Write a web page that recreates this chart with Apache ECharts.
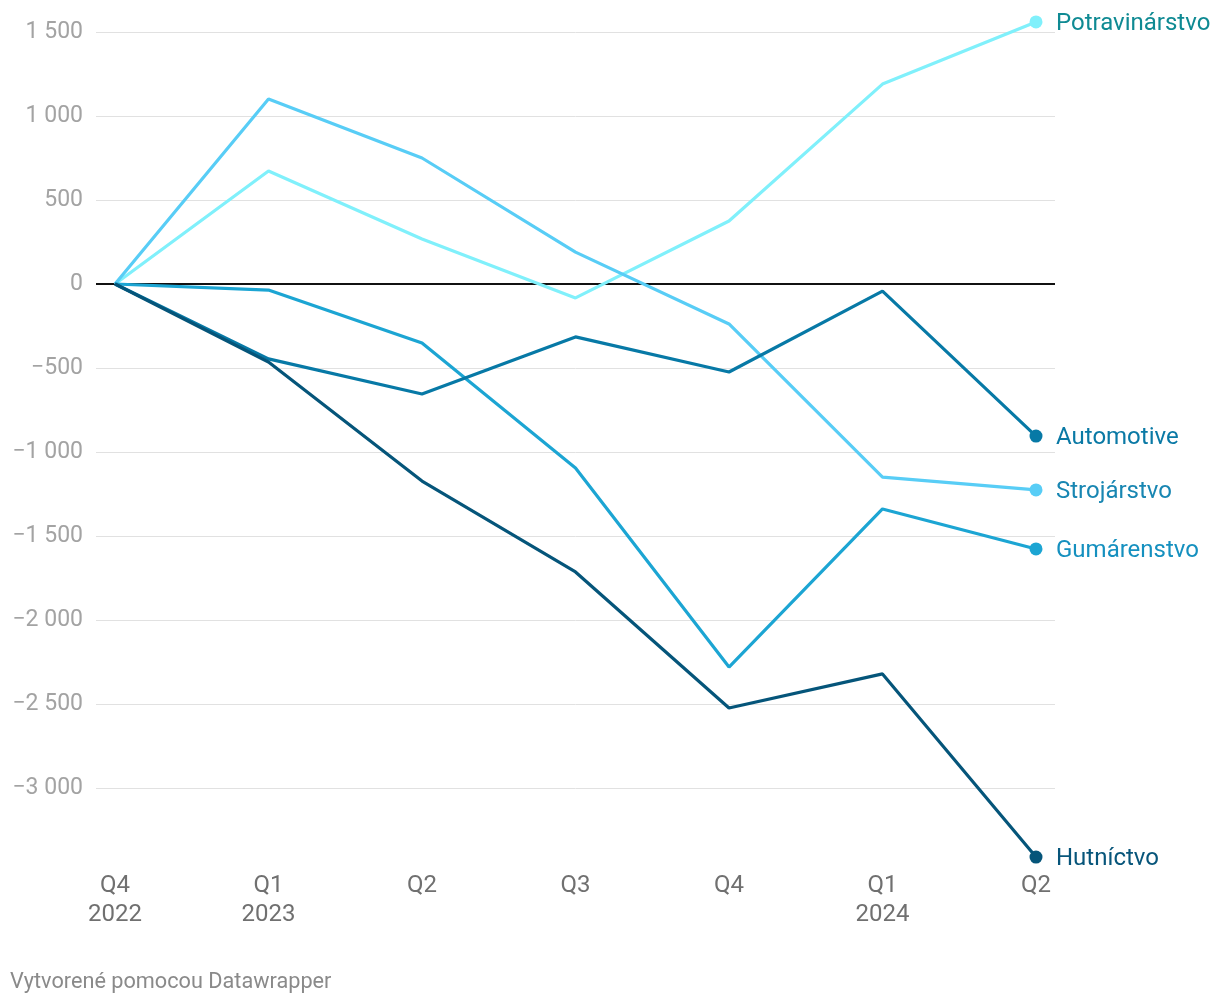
<!DOCTYPE html>
<html>
<head>
<meta charset="utf-8">
<script src="https://cdn.jsdelivr.net/npm/echarts@6/dist/echarts.min.js"></script>
<style>
html,body{margin:0;padding:0;background:#fff;}
#chart{width:1220px;height:1004px;}
</style>
</head>
<body>
<div id="chart"></div>
<script>
const categories = ['Q4\n2022', 'Q1\n2023', 'Q2', 'Q3', 'Q4', 'Q1\n2024', 'Q2'];
const potravinarstvo = [0, 673, 268, -83, 375, 1190, 1560];
const strojarstvo = [0, 1101, 750, 190, -238, -1149, -1226];
const automotive = [0, -446, -655, -315, -524, -42, -905];
const gumarenstvo = [0, -36, -351, -1095, -2280, -1339, -1577];
const hutnictvo = [0, -464, -1173, -1714, -2524, -2321, -3411];
const yTicks = [-3000, -2500, -2000, -1500, -1000, -500, 0, 500, 1000, 1500];

const FONT = 'Roboto';
function fmt(v) {
  const s = Math.abs(v).toString().replace(/\B(?=(\d{3})+(?!\d))/g, ' ');
  return (v < 0 ? '\u2212' : '') + s;
}

const seriesDefs = [
  {name: 'Potravinárstvo', data: potravinarstvo, color: '#80f0fb', label: '#0f8a93'},
  {name: 'Strojárstvo', data: strojarstvo, color: '#58cdf6', label: '#1886b2'},
  {name: 'Gumárenstvo', data: gumarenstvo, color: '#1ca5d3', label: '#1590bf'},
  {name: 'Automotive', data: automotive, color: '#0779a6', label: '#0a79a5'},
  {name: 'Hutníctvo', data: hutnictvo, color: '#05557a', label: '#07557a'}
];

const TOP = 32, BOTTOM = 132;
const chart = echarts.init(document.getElementById('chart'));
const splitColors = [-3500].concat(yTicks).map(v => (v === -3500 || v === 0) ? 'rgba(0,0,0,0)' : '#e1e1e1');

chart.setOption({
  animation: false,
  title: {
    text: 'Vytvorené pomocou Datawrapper',
    left: 5, top: 967,
    textStyle: {fontFamily: FONT, fontSize: 21.7, fontWeight: 'normal', color: '#8a8a8a'}
  },
  grid: [
    {left: 115, right: 184, top: TOP, bottom: BOTTOM},
    {left: 96, right: 165, top: TOP, bottom: BOTTOM}
  ],
  xAxis: [
    {
      type: 'category', gridIndex: 0, data: categories, boundaryGap: false,
      axisLine: {show: false}, axisTick: {show: false}, splitLine: {show: false},
      axisLabel: {fontFamily: FONT, fontSize: 24, color: '#707070', lineHeight: 29, margin: -1, interval: 0}
    },
    {
      type: 'value', gridIndex: 1, min: 0, max: 1, show: false
    }
  ],
  yAxis: [
    {
      type: 'value', gridIndex: 0, min: -3500, max: 1500, interval: 500,
      axisLine: {show: false}, axisTick: {show: false}, axisLabel: {show: false}, splitLine: {show: false}
    },
    {
      type: 'value', gridIndex: 1, min: -3500, max: 1500, interval: 500,
      axisLine: {show: false}, axisTick: {show: false},
      axisLabel: {
        fontFamily: FONT, fontSize: 23, color: '#a3a3a3', margin: 13,
        formatter: v => yTicks.indexOf(v) >= 0 ? fmt(v) : ''
      },
      splitLine: {show: true, lineStyle: {color: splitColors, width: 1}}
    }
  ],
  series: [
    {
      type: 'line', xAxisIndex: 1, yAxisIndex: 1, data: [], silent: true,
      markLine: {
        silent: true, symbol: 'none', label: {show: false},
        lineStyle: {color: '#111', width: 2, type: 'solid'},
        data: [{yAxis: 0}]
      }
    }
  ].concat(seriesDefs.map(s => ({
    type: 'line', name: s.name, xAxisIndex: 0, yAxisIndex: 0,
    data: s.data, clip: false, z: 5,
    lineStyle: {color: s.color, width: 3.2},
    itemStyle: {color: s.color},
    symbol: 'circle', showSymbol: true,
    symbolSize: (v, p) => p.dataIndex === s.data.length - 1 ? 13 : 0,
    endLabel: {
      show: true, formatter: '{a}', distance: 20, offset: [0, 2],
      fontFamily: FONT, fontSize: 24, color: s.label
    },
    emphasis: {disabled: true}
  })))
});
</script>
</body>
</html>
